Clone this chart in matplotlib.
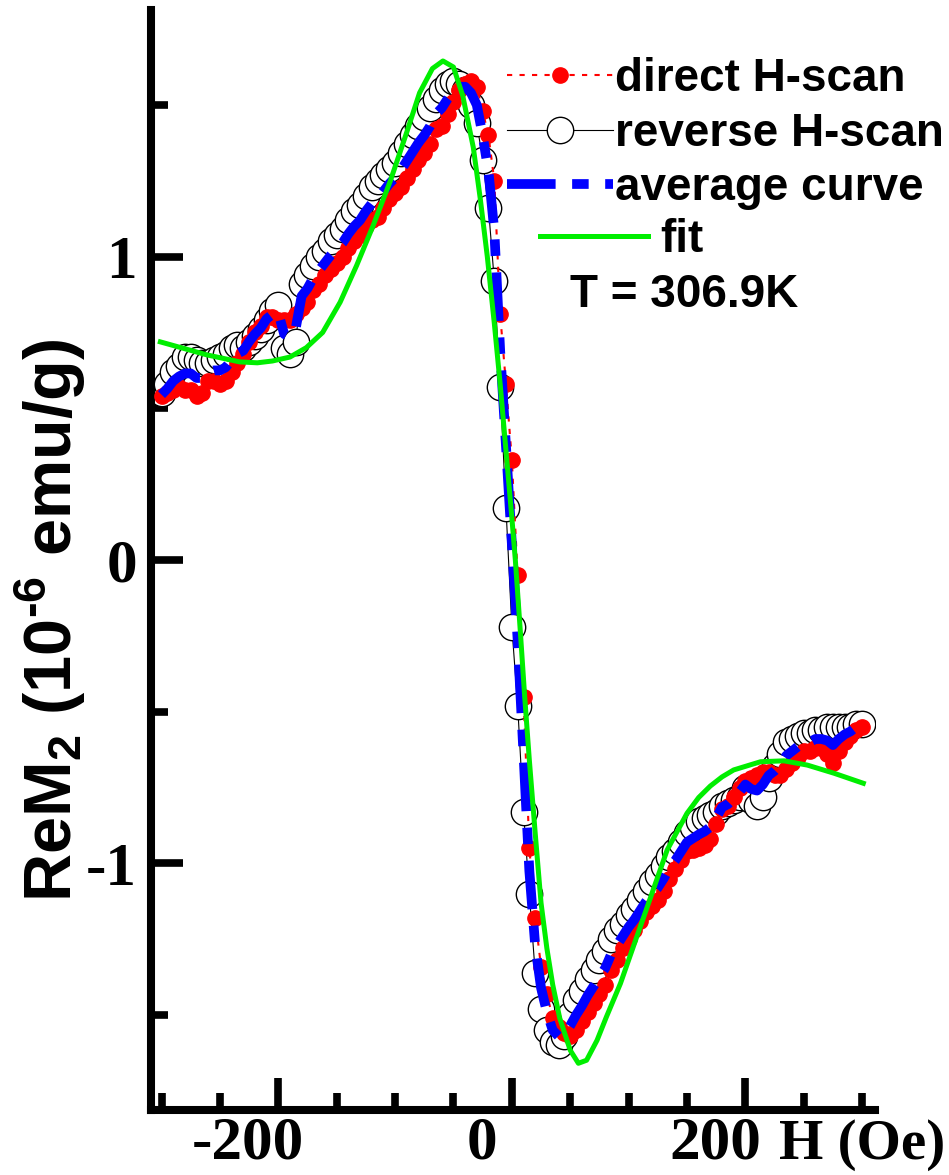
import numpy as np
import matplotlib
matplotlib.use("Agg")
import matplotlib.pyplot as plt
from matplotlib.transforms import ScaledTranslation
from matplotlib.ticker import MultipleLocator

plt.rcParams['mathtext.default'] = 'regular'

# field sweep (Oe), 5 Oe steps
H = np.linspace(-300, 300, 121)

# direct H-scan, ReM2 (1e-6 emu/g)
direct = [0.54, 0.55, 0.56, 0.57, 0.56, 0.56, 0.54, 0.55, 0.59, 0.59,
          0.58, 0.59, 0.62, 0.65, 0.68, 0.72, 0.75, 0.77, 0.80, 0.80,
          0.79, 0.79, 0.79, 0.81, 0.83, 0.85, 0.89, 0.91, 0.94, 0.96,
          0.98, 1.00, 1.03, 1.05, 1.07, 1.10, 1.12, 1.13, 1.16, 1.19,
          1.21, 1.23, 1.26, 1.29, 1.32, 1.34, 1.37, 1.42, 1.43, 1.47,
          1.51, 1.55, 1.57, 1.58, 1.56, 1.48, 1.40, 1.25, 0.81, 0.58,
          0.33, -0.05, -0.45, -0.95, -1.18, -1.34, -1.43, -1.51, -1.54, -1.56,
          -1.57, -1.55, -1.52, -1.49, -1.46, -1.43, -1.40, -1.35, -1.32, -1.28,
          -1.25, -1.22, -1.19, -1.16, -1.14, -1.12, -1.09, -1.05, -1.02, -0.99,
          -0.96, -0.955, -0.95, -0.94, -0.92, -0.87, -0.82, -0.81, -0.78, -0.75,
          -0.73, -0.72, -0.71, -0.70, -0.70, -0.71, -0.71, -0.69, -0.67, -0.65,
          -0.63, -0.63, -0.62, -0.62, -0.64, -0.67, -0.63, -0.60, -0.58, -0.56,
          -0.55]

# reverse H-scan
reverse = [0.55, 0.58, 0.62, 0.64, 0.67, 0.67, 0.66, 0.65, 0.65, 0.66,
           0.67, 0.68, 0.70, 0.71, 0.70, 0.72, 0.74, 0.76, 0.79, 0.82,
           0.84, 0.70, 0.68, 0.72, 0.91, 0.94, 0.97, 1.00, 1.02, 1.05,
           1.07, 1.09, 1.12, 1.15, 1.17, 1.20, 1.23, 1.25, 1.27, 1.29,
           1.31, 1.34, 1.37, 1.40, 1.43, 1.46, 1.49, 1.52, 1.55, 1.57,
           1.58, 1.57, 1.55, 1.50, 1.44, 1.32, 1.16, 0.92, 0.57, 0.17,
           -0.22, -0.48, -0.83, -1.10, -1.36, -1.48, -1.55, -1.59, -1.60, -1.57,
           -1.50, -1.45, -1.42, -1.38, -1.35, -1.32, -1.29, -1.25, -1.22, -1.20,
           -1.17, -1.15, -1.12, -1.09, -1.06, -1.04, -1.01, -0.98, -0.96, -0.93,
           -0.90, -0.88, -0.86, -0.85, -0.84, -0.83, -0.81, -0.80, -0.79, -0.78,
           -0.75, -0.79, -0.81, -0.78, -0.72, -0.68, -0.64, -0.60, -0.59, -0.58,
           -0.57, -0.57, -0.56, -0.56, -0.55, -0.55, -0.55, -0.55, -0.55, -0.54,
           -0.54]

average = (np.array(direct) + np.array(reverse)) / 2

# fit curve
fit_h = [-301, -261, -233, -218, -205, -190, -176, -162, -147, -133,
         -119, -104, -90, -79, -68, -59, -50, -42, -33, -27,
         -21, -15, -10, -5, 0, 3, 7, 11, 15, 20,
         25, 30, 35, 41, 50, 57, 64, 73, 81, 93,
         104, 116, 133, 150, 160, 170, 180, 190, 213, 233,
         253, 276, 301]
fit_m = [0.719, 0.676, 0.653, 0.650, 0.656, 0.669, 0.70, 0.75, 0.85, 0.97,
         1.10, 1.25, 1.41, 1.54, 1.62, 1.645, 1.625, 1.53, 1.36, 1.19,
         1.00, 0.78, 0.58, 0.36, 0.14, 0.0, -0.22, -0.45, -0.66, -0.90,
         -1.13, -1.28, -1.40, -1.51, -1.616, -1.659, -1.649, -1.583, -1.506, -1.396,
         -1.275, -1.143, -0.956, -0.835, -0.783, -0.745, -0.715, -0.692, -0.665, -0.662,
         -0.676, -0.703, -0.736]

xticks = [-200, 0, 200]
yticks = [-1, 0, 1]

W, Hpx = 949, 1175
fig = plt.figure(figsize=(W / 100, Hpx / 100), dpi=100)
ax = fig.add_axes([151 / W, 65 / Hpx, (875 - 151) / W, 1100 / Hpx])

ax.plot(H, reverse, color='black', lw=0.8, marker='o', ms=19, mfc='white',
        mec='black', mew=1.0, zorder=2, label='reverse H-scan')
ax.plot(H, direct, color='red', lw=1.5, ls=(0, (2.5, 3.5)), marker='o', ms=11,
        mfc='red', mec='red', zorder=3, label='direct H-scan')
ax.plot(H, average, color='blue', lw=7, ls=(0, (5, 1.7, 1.7, 1.7)), zorder=4,
        label='average curve')
fit_line, = ax.plot(fit_h, fit_m, color='#00ee00', lw=3.6, zorder=5, label='fit')

ax.set_xlim(-309, 311)
ax.set_ylim(-1.813, 1.813)

for s in ['top', 'right']:
    ax.spines[s].set_visible(False)
for s in ['left', 'bottom']:
    ax.spines[s].set_linewidth(5.8)

ax.set_xticks(xticks)
ax.set_yticks(yticks)
ax.xaxis.set_minor_locator(MultipleLocator(50))
ax.yaxis.set_minor_locator(MultipleLocator(0.5))
ax.tick_params(which='major', direction='in', length=23, width=5.5)
ax.tick_params(which='minor', direction='in', length=12, width=5.5)
ax.tick_params(axis='x', which='major', pad=4)
ax.tick_params(axis='y', which='major', pad=10)
ax.set_xticklabels([str(v) for v in xticks], family='Liberation Serif',
                   weight='bold', fontsize=44)
ax.set_yticklabels([str(v) for v in yticks], family='Liberation Serif',
                   weight='bold', fontsize=44)
shift = ScaledTranslation(-0.30, 0, fig.dpi_scale_trans)
for lbl in ax.get_xticklabels():
    lbl.set_transform(lbl.get_transform() + shift)

fig.text(945 / W, 1 - 1145 / Hpx, 'H (Oe)', ha='right', va='center',
         family='Liberation Serif', weight='bold', fontsize=41)

fig.text(50 / W, 1 - 620 / Hpx, 'ReM$_2$ (10$^{\u20106}$ emu/g)', rotation=90,
         ha='center', va='center', family='Liberation Sans', weight='bold',
         fontsize=48)

font_leg = {'family': 'Liberation Sans', 'weight': 'bold', 'size': 33}
h, l = ax.get_legend_handles_labels()
order = [1, 0, 2]
leg = ax.legend([h[i] for i in order], [l[i] for i in order], loc='upper right',
                bbox_to_anchor=(944 / W, 1 - 57 / Hpx), bbox_transform=fig.transFigure,
                frameon=False, prop=font_leg, handlelength=2.3, handletextpad=0.05,
                labelspacing=0.23, borderpad=0, borderaxespad=0)
ax.add_artist(leg)
ax.legend([fit_line], ['fit'], loc='upper left',
          bbox_to_anchor=(540 / W, 1 - 218 / Hpx), bbox_transform=fig.transFigure,
          frameon=False, prop=font_leg, handlelength=2.36, handletextpad=0.26,
          borderpad=0, borderaxespad=0)

fig.text(570 / W, 1 - 295 / Hpx, 'T = 306.9K', ha='left', va='center',
         family='Liberation Sans', weight='bold', fontsize=33)

fig.savefig('out.png', dpi=100)
